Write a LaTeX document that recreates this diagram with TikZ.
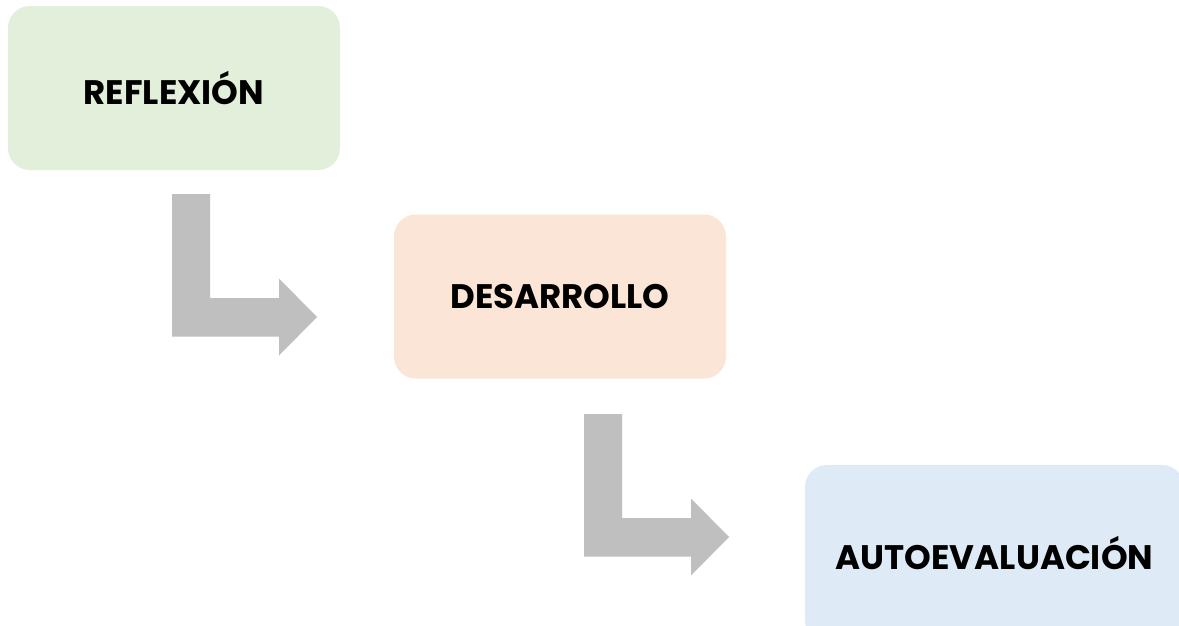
\documentclass[tikz,border=0pt]{standalone}
\usepackage{fontspec}
\setmainfont{Poppins}
\definecolor{boxgreen}{HTML}{E2EFDA}
\definecolor{boxpeach}{HTML}{FBE5D6}
\definecolor{boxblue}{HTML}{DEEBF7}
\definecolor{arrowgray}{HTML}{BFBFBF}
\tikzset{
  stagebox/.style={rounded corners=22pt, inner sep=0pt, font=\bfseries\fontsize{34}{40}\selectfont, text=black},
  elbow/.pic={
    \fill[arrowgray] (0,0) -- ++(38,0) -- ++(0,104) -- ++(69,0) -- ++(0,-19.5)
      -- ++(38,38.5) -- ++(-38,38.5) -- ++(0,-19) -- ++(-107,0) -- cycle;
  }
}
\begin{document}
\begin{tikzpicture}[x=1pt,y=-1pt]
  \useasboundingbox (0,0) rectangle (1179,625);
  \clip (0,0) rectangle (1179,625);
  \fill[white] (0,0) rectangle (1179,625);

  % stage boxes
  \node[stagebox, fill=boxgreen, minimum width=332pt, minimum height=164pt] (refl) at (174,88) {REFLEXIÓN};
  \node[stagebox, fill=boxpeach, minimum width=332pt, minimum height=164pt] (desa) at (560,296.5) {DESARROLLO};
  \node[stagebox, fill=boxblue, minimum width=379pt, minimum height=177pt] (auto) at (994.5,553.5) {AUTOEVALUACIÓN};

  % elbow block arrows between the stages
  \pic at (172,194) {elbow};
  \pic at (584,414) {elbow};
\end{tikzpicture}
\end{document}
